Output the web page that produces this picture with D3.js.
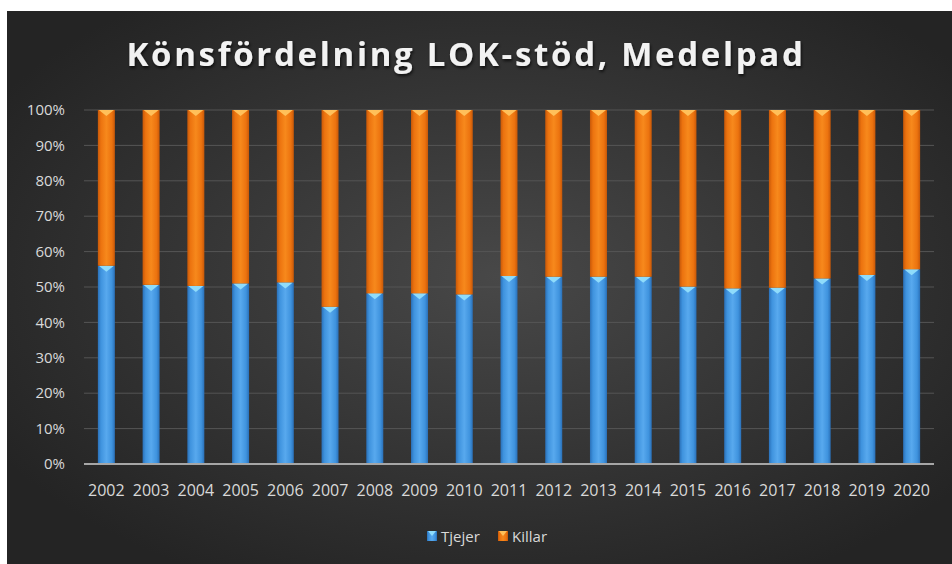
<!DOCTYPE html>
<html>
<head>
<meta charset="utf-8">
<script src="https://cdn.jsdelivr.net/npm/d3@7"></script>
<style>
  html, body { margin: 0; padding: 0; background: #ffffff; }
  svg { display: block; }
</style>
</head>
<body>
<div id="chart"></div>
<script>
// Könsfördelning LOK-stöd, Medelpad - 100% stacked columns, girls vs boys per year

const years   = ["2002","2003","2004","2005","2006","2007","2008","2009","2010","2011",
                 "2012","2013","2014","2015","2016","2017","2018","2019","2020"];
const tjejer  = [56.0, 50.6, 50.3, 51.0, 51.3, 44.4, 48.2, 48.2, 47.9, 53.1,
                 52.9, 52.9, 52.9, 50.1, 49.6, 49.8, 52.4, 53.4, 55.0];
const killar  = tjejer.map(v => 100 - v);
const yTicks  = [0, 10, 20, 30, 40, 50, 60, 70, 80, 90, 100];
const series  = [
  { key: "Tjejer", values: tjejer, base: "#3f93de", dark: "#2a70b8", light: "#58a9ee", tip: "#8fdcfb" },
  { key: "Killar", values: killar, base: "#ec730f", dark: "#c85808", light: "#f7891c", tip: "#ffc05a" }
];

const W = 952, H = 564;
const m = { top: 110, right: 18, bottom: 100, left: 84 };
const iw = W - m.left - m.right;
const ih = H - m.top - m.bottom;
const FONT = "'Open Sans', 'DejaVu Sans', sans-serif";

const svg = d3.select("#chart").append("svg")
  .attr("width", W).attr("height", H);

const defs = svg.append("defs");

// chart background: dark with a soft lighter centre
const bg = defs.append("radialGradient").attr("id", "bg")
  .attr("cx", "52%").attr("cy", "48%").attr("r", "62%");
bg.append("stop").attr("offset", "0%").attr("stop-color", "#484848");
bg.append("stop").attr("offset", "100%").attr("stop-color", "#242424");

series.forEach(s => {
  const gr = defs.append("linearGradient").attr("id", "g-" + s.key)
    .attr("x1", "0%").attr("x2", "100%").attr("y1", "0%").attr("y2", "0%");
  gr.append("stop").attr("offset", "0%").attr("stop-color", s.dark);
  gr.append("stop").attr("offset", "18%").attr("stop-color", s.base);
  gr.append("stop").attr("offset", "50%").attr("stop-color", s.light);
  gr.append("stop").attr("offset", "82%").attr("stop-color", s.base);
  gr.append("stop").attr("offset", "100%").attr("stop-color", s.dark);
});

const shadow = defs.append("filter").attr("id", "tshadow")
  .attr("x", "-5%").attr("y", "-20%").attr("width", "110%").attr("height", "150%");
shadow.append("feDropShadow").attr("dx", 1).attr("dy", 2).attr("stdDeviation", 1.5)
  .attr("flood-color", "#000").attr("flood-opacity", 0.7);

svg.append("rect")
  .attr("x", 7).attr("y", 11).attr("width", W - 7).attr("height", H - 11)
  .attr("fill", "url(#bg)");

// Title
svg.append("text")
  .attr("x", 466).attr("y", 66)
  .attr("text-anchor", "middle")
  .attr("fill", "#f2f2f2")
  .attr("font-family", FONT)
  .attr("font-weight", "700")
  .attr("font-size", "33px")
  .attr("letter-spacing", "2.7px")
  .attr("filter", "url(#tshadow)")
  .text("Könsfördelning LOK-stöd, Medelpad");

const g = svg.append("g").attr("transform", `translate(${m.left},${m.top})`);

const x = d3.scaleBand().domain(years).range([0, iw]).paddingInner(0.62).paddingOuter(0.31);
const y = d3.scaleLinear().domain([0, 100]).range([ih, 0]);

// grid
g.selectAll("line.grid").data(yTicks.filter(t => t > 0)).join("line")
  .attr("class", "grid")
  .attr("x1", 0).attr("x2", iw)
  .attr("y1", d => y(d)).attr("y2", d => y(d))
  .attr("stroke", "#555555").attr("stroke-width", 1);

// y labels
g.selectAll("text.ylab").data(yTicks).join("text")
  .attr("class", "ylab")
  .attr("x", -19).attr("y", d => y(d))
  .attr("dy", "0.35em")
  .attr("text-anchor", "end")
  .attr("fill", "#d9d9d9")
  .attr("font-family", FONT)
  .attr("font-size", "15px")
  .text(d => d + "%");

// stacked bars
const stack = years.map((yr, i) => {
  let acc = 0;
  return series.map(s => {
    const y0 = acc; acc += s.values[i];
    return { yr, s, y0, y1: acc };
  });
}).flat();

const bw = x.bandwidth();
const segs = g.selectAll("g.seg").data(stack).join("g").attr("class", "seg");

segs.append("rect")
  .attr("x", d => x(d.yr))
  .attr("y", d => y(d.y1))
  .attr("width", bw)
  .attr("height", d => y(d.y0) - y(d.y1))
  .attr("fill", d => `url(#g-${d.s.key})`);

// light triangle marker at the top of each segment
segs.append("path")
  .attr("d", d => {
    const x0 = x(d.yr), yt = y(d.y1);
    return `M${x0 + 1},${yt}L${x0 + bw - 1},${yt}L${x0 + bw / 2},${yt + 6}Z`;
  })
  .attr("fill", d => d.s.tip);

// baseline axis
g.append("line")
  .attr("x1", 0).attr("x2", iw)
  .attr("y1", ih).attr("y2", ih)
  .attr("stroke", "#a6a6a6").attr("stroke-width", 2);

// x labels
g.selectAll("text.xlab").data(years).join("text")
  .attr("class", "xlab")
  .attr("x", d => x(d) + bw / 2)
  .attr("y", ih + 32)
  .attr("text-anchor", "middle")
  .attr("fill", "#d9d9d9")
  .attr("font-family", FONT)
  .attr("font-size", "16px")
  .text(d => d);

// legend
const legX = [427, 498];
const leg = svg.selectAll("g.leg").data(series).join("g")
  .attr("class", "leg")
  .attr("transform", (d, i) => `translate(${legX[i]},531)`);

leg.append("rect")
  .attr("width", 10).attr("height", 10)
  .attr("fill", d => `url(#g-${d.key})`);
leg.append("path")
  .attr("d", "M1,0L9,0L5,5Z")
  .attr("fill", d => d.tip);
leg.append("text")
  .attr("x", 14).attr("y", 11)
  .attr("fill", "#d9d9d9")
  .attr("font-family", FONT)
  .attr("font-size", "15px")
  .text(d => d.key);
</script>
</body>
</html>
